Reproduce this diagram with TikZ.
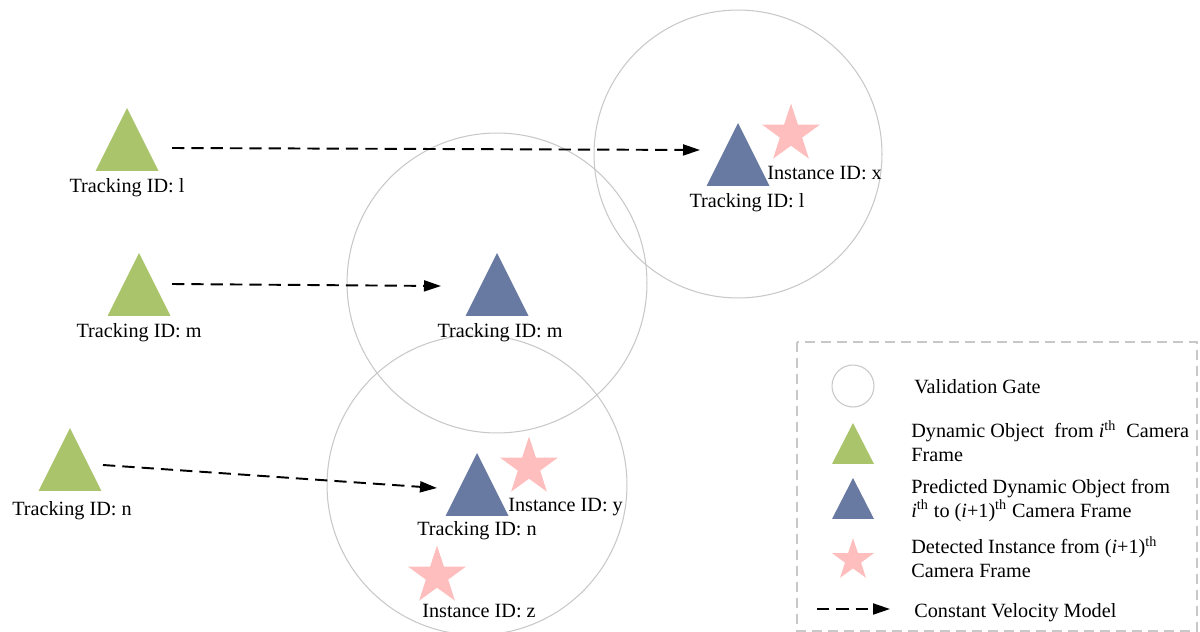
\documentclass[tikz,border=0pt]{standalone}
\usepackage{fontspec}
\setmainfont{Liberation Serif}
\usetikzlibrary{shapes.geometric,arrows.meta}
\definecolor{objgreen}{RGB}{170,196,108}
\definecolor{predblue}{RGB}{104,121,162}
\definecolor{instpink}{RGB}{255,190,190}
\definecolor{gategray}{RGB}{200,200,200}

\begin{document}
\begin{tikzpicture}[x=0.02cm,y=-0.02cm,every node/.style={font=\fontsize{11.5}{13.1}\selectfont},
	gate/.style={circle,draw=gategray,line width=0.6pt,inner sep=0pt},
	tri/.style={isosceles triangle,isosceles triangle stretches,shape border rotate=90,inner sep=0pt,outer sep=0pt,anchor=apex,minimum width=1.26cm,minimum height=1.26cm},
	obj/.style={tri,fill=objgreen},
	pred/.style={tri,fill=predblue},
	inst/.style={star,star points=5,star point ratio=2.6,fill=instpink,inner sep=0pt,minimum size=1.22cm},
	lbl/.style={anchor=base,inner sep=0pt},
	vel/.style={dash pattern=on 7pt off 4pt,line width=1.1pt,-{Triangle[length=0.34cm,width=0.22cm]}}]

			\useasboundingbox (0,0) rectangle (1200,632);

			\node[gate,minimum size=5.76cm] (c1) at (738,154) {};
			\node[gate,minimum size=6cm] (c2) at (497,283) {};
			\node[gate,minimum size=6cm] (c3) at (477,485) {};

			\node[obj] (g1) at (127,108) {};
			\node[obj] (g2) at (139,253) {};
			\node[obj] (g3) at (70,428) {};
			\node[pred] (p1) at (738,123) {};
			\node[pred] (p2) at (497,253) {};
			\node[pred] (p3) at (477,453) {};
			\node[inst] (s1) at (791,134) {};
			\node[inst] (s2) at (529,467) {};
			\node[inst] (s3) at (437,576) {};

			\node[lbl] (tg1) at (127,192) {Tracking ID: l};
			\node[lbl] (tg2) at (139,337) {Tracking ID: m};
			\node[lbl] (tg3) at (72,515) {Tracking ID: n};
			\node[lbl] (tp1) at (747,207) {Tracking ID: l};
			\node[lbl] (tp2) at (500,337) {Tracking ID: m};
			\node[lbl] (tp3) at (477,535) {Tracking ID: n};
			\node[lbl,anchor=base west] (ts1) at (767,179) {Instance ID: x};
			\node[lbl,anchor=base west] (ts2) at (508,511) {Instance ID: y};
			\node[lbl,anchor=base west] (ts3) at (422,617) {Instance ID: z};

			\draw[vel] ([shift={(45,40)}]g1.apex) -- ([shift={(-38,27)}]p1.apex);
			\draw[vel] ([shift={(33,31)}]g2.apex) -- ([shift={(-56,33)}]p2.apex);
			\draw[vel] ([shift={(33,37)}]g3.apex) -- ([shift={(-40,35)}]p3.apex);

			\draw[gategray,line width=0.6pt,dash pattern=on 0.2cm off 0.12cm] (797,342) rectangle (1197,631);
			\node[gate,minimum size=0.84cm] (k1) at (853,386) {};
			\node[obj,minimum width=0.84cm,minimum height=0.82cm] (k2) at (853,423) {};
			\node[pred,minimum width=0.84cm,minimum height=0.82cm] (k3) at (853,478) {};
			\node[inst,minimum size=0.88cm] (k4) at (853,560) {};
			\coordinate (k5a) at (817,609);
			\coordinate (k5b) at (890,609);
			\draw[vel] (k5a) -- (k5b);

			\node[lbl,anchor=base west] (t1) at (914,393) {Validation Gate};
			\node[lbl,anchor=base west,align=left] (t2) at (911,461) {Dynamic Object\ \ from \textit{i}\textsuperscript{th}\ \ Camera\\Frame};
			\node[lbl,anchor=base west,align=left] (t3) at (911,517) {Predicted Dynamic Object from\\\textit{i}\textsuperscript{th} to (\textit{i}+1)\textsuperscript{th} Camera Frame};
			\node[lbl,anchor=base west,align=left] (t4) at (911,577) {Detected Instance from (\textit{i}+1)\textsuperscript{th}\\Camera Frame};
			\node[lbl,anchor=base west] (t5) at (914,617) {Constant Velocity Model};
		\end{tikzpicture}
\end{document}
